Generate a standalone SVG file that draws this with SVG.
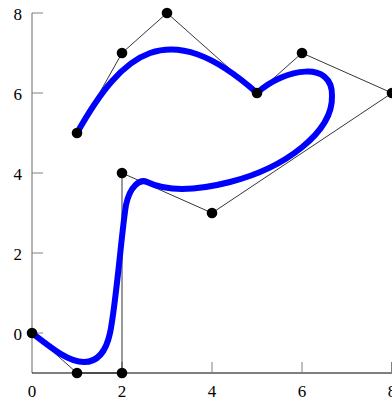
<svg xmlns="http://www.w3.org/2000/svg" width="392" height="403" viewBox="0 0 392 403">
<style>
.tick{stroke:#808080;stroke-width:1}
.lbl{font-family:"Liberation Serif","DejaVu Serif",serif;font-size:17px;fill:#000}
.poly{fill:none;stroke:#000;stroke-width:0.8}
.curve{fill:none;stroke:#0000ff;stroke-width:6;stroke-linecap:round;stroke-linejoin:round}
.pt{fill:#000}
</style>
<rect width="392" height="403" fill="#fff"/>
<g id="axes">
<line x1="32" y1="373" x2="32" y2="13" stroke="#808080" stroke-width="1.2"/>
<line x1="32" y1="373" x2="392" y2="373" stroke="#000" stroke-width="1"/>
<line class="tick" x1="32" y1="13" x2="43" y2="13"/>
<line class="tick" x1="32" y1="93" x2="43" y2="93"/>
<line class="tick" x1="32" y1="173" x2="43" y2="173"/>
<line class="tick" x1="32" y1="253" x2="43" y2="253"/>
<line class="tick" x1="32" y1="333" x2="43" y2="333"/>
<line class="tick" x1="122" y1="373" x2="122" y2="362"/>
<line class="tick" x1="212" y1="373" x2="212" y2="362"/>
<line class="tick" x1="302" y1="373" x2="302" y2="362"/>
<line class="tick" x1="391.5" y1="373" x2="391.5" y2="362"/>
<g text-anchor="end">
<text class="lbl" x="22" y="20">8</text>
<text class="lbl" x="22" y="100">6</text>
<text class="lbl" x="22" y="180">4</text>
<text class="lbl" x="22" y="260">2</text>
<text class="lbl" x="22" y="340">0</text>
</g>
<g text-anchor="middle">
<text class="lbl" x="32" y="397">0</text>
<text class="lbl" x="122" y="397">2</text>
<text class="lbl" x="212" y="397">4</text>
<text class="lbl" x="302" y="397">6</text>
<text class="lbl" x="392" y="397">8</text>
</g>
</g>
<g id="connectors">
<polyline class="poly" points="77,133 122,53 167,13 257,93 302,53 392,93 212,213 122,173 122,373 77,373 32,333"/>
<path id="curve" class="curve" d="M77,133 C122,53 167,13 257,93 C285,68 333,60 332,96 C333,132 285,168 230,182 C205,188.4 172,194 147,182 C140,178.6 130,186 126,205 C122,228 116,305 110,333 C106.6,349 99,362 84,362 C68,362 50,347 32,333"/>
</g>
<g id="points">
<circle id="p1" class="pt" cx="77" cy="133" r="5.3"/>
<circle id="p2" class="pt" cx="122" cy="53" r="5.3"/>
<circle id="p3" class="pt" cx="167" cy="13" r="5.3"/>
<circle id="p4" class="pt" cx="257" cy="93" r="5.3"/>
<circle id="p5" class="pt" cx="302" cy="53" r="5.3"/>
<circle id="p6" class="pt" cx="392" cy="93" r="5.3"/>
<circle id="p7" class="pt" cx="212" cy="213" r="5.3"/>
<circle id="p8" class="pt" cx="122" cy="173" r="5.3"/>
<circle id="p9" class="pt" cx="122" cy="373" r="5.3"/>
<circle id="p10" class="pt" cx="77" cy="373" r="5.3"/>
<circle id="p11" class="pt" cx="32" cy="333" r="5.3"/>
</g>
</svg>
